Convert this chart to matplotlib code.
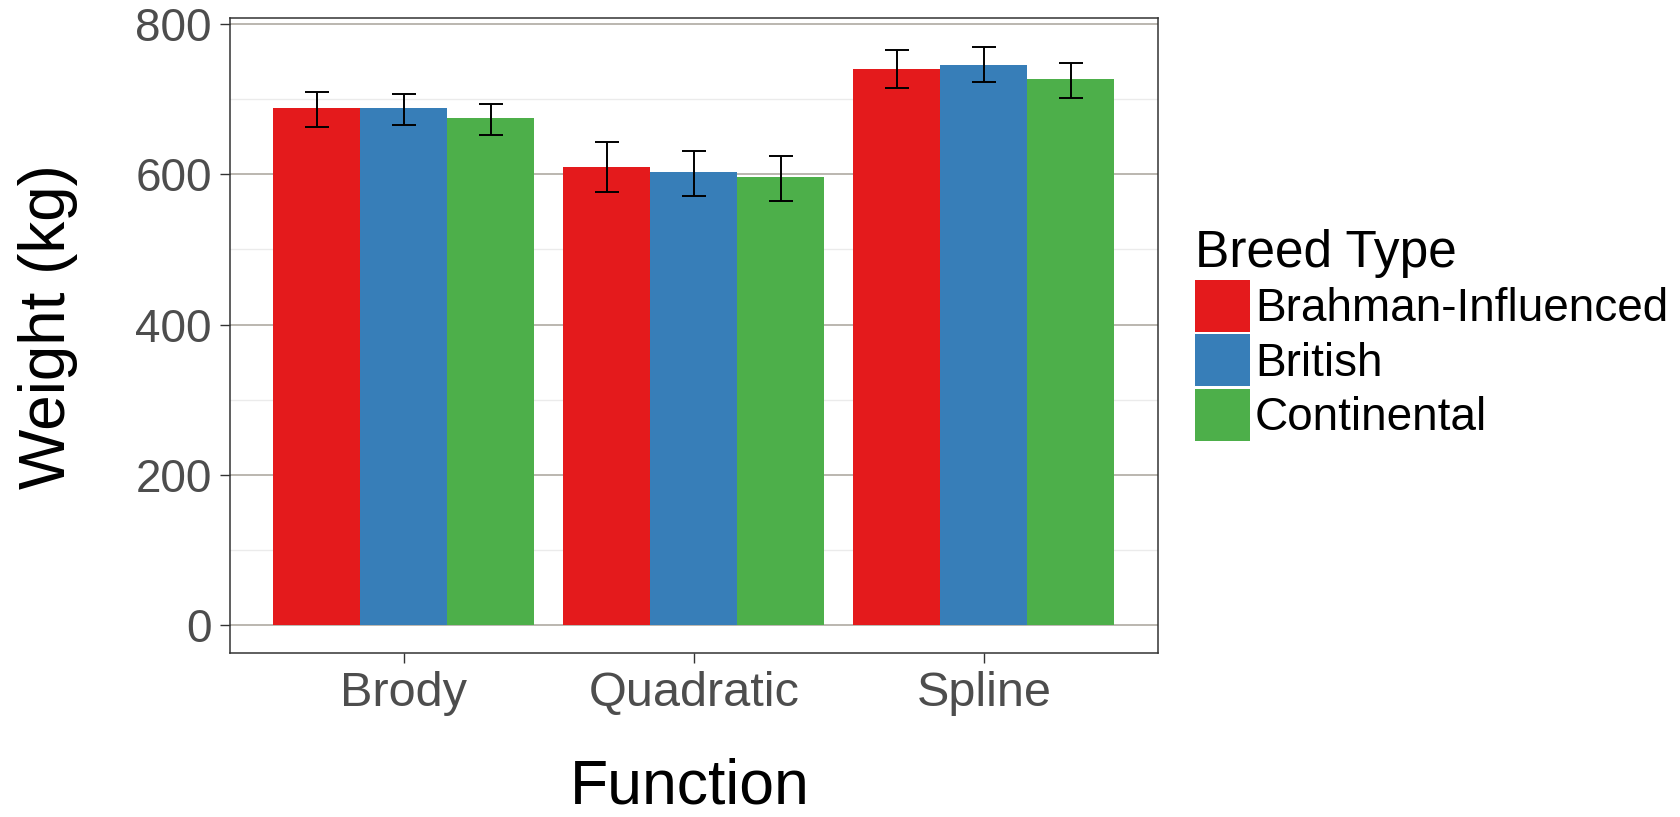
import matplotlib
matplotlib.use("Agg")
import matplotlib.pyplot as plt
from matplotlib.patches import Patch
from matplotlib.ticker import MultipleLocator
import numpy as np

plt.rcParams['font.family'] = ['Liberation Sans', 'DejaVu Sans']

functions = ["Brody", "Quadratic", "Spline"]
breeds = ["Brahman-Influenced", "British", "Continental"]
colors = ["#E41A1C", "#377EB8", "#4DAF4A"]

# mean weight per function, one list per breed type
brahman = [688, 610, 740]
british = [688, 603, 746]
continental = [675, 596, 727]
means = [brahman, british, continental]

# error bar limits
brahman_lo = [663, 577, 715]
brahman_hi = [710, 643, 766]
british_lo = [666, 571, 723]
british_hi = [707, 631, 770]
continental_lo = [652, 565, 701]
continental_hi = [694, 625, 748]
lows = [brahman_lo, british_lo, continental_lo]
highs = [brahman_hi, british_hi, continental_hi]

fig = plt.figure(figsize=(16.81, 8.17), dpi=100)
ax = fig.add_axes([0.1368, 0.2007, 0.552, 0.7773])

x = np.arange(1, len(functions) + 1)
w = 0.3
for i in range(len(breeds)):
    xs = x + (i - 1) * w
    m = np.array(means[i])
    lo = m - np.array(lows[i])
    hi = np.array(highs[i]) - m
    ax.bar(xs, m, width=w, color=colors[i], zorder=2)
    ax.errorbar(xs, m, yerr=[lo, hi], fmt='none', ecolor='black',
                elinewidth=1.4, capsize=8.5, capthick=1.4, zorder=3)

ax.set_xlim(0.4, 3.6)
ax.set_ylim(-37, 808)
ax.set_xticks(x)
ax.set_xticklabels(functions)
ax.yaxis.set_major_locator(MultipleLocator(200))
ax.yaxis.set_minor_locator(MultipleLocator(100))
ax.grid(which='major', axis='y', color='#A8A39A', linewidth=1.1, zorder=0)
ax.grid(which='minor', axis='y', color='#EBEBEB', linewidth=1.0, zorder=0)
ax.tick_params(axis='both', which='major', colors='#333333',
               labelcolor='#4D4D4D', length=7, width=1.0, pad=6)
ax.tick_params(axis='x', labelsize=35)
ax.tick_params(axis='y', labelsize=33)
ax.tick_params(axis='y', which='minor', length=0)
for s in ax.spines.values():
    s.set_color('#333333')
    s.set_linewidth(1.1)

fig.text(0.0286, 0.600, "Weight (kg)", fontsize=46, rotation=90,
         ha='center', va='center')
fig.text(0.4106, 0.016, "Function", fontsize=45, ha='center', va='baseline')

handles = [Patch(facecolor=c, edgecolor='none') for c in colors]
leg = fig.legend(handles, breeds, loc='upper left', bbox_to_anchor=(0.711, 0.72),
                 frameon=False, fontsize=33, title="Breed Type", title_fontsize=37,
                 alignment='left', handlelength=1.2, handleheight=1.37,
                 handletextpad=0.1, labelspacing=0.05, borderpad=0, borderaxespad=0)

fig.savefig("out.png", dpi=100)
